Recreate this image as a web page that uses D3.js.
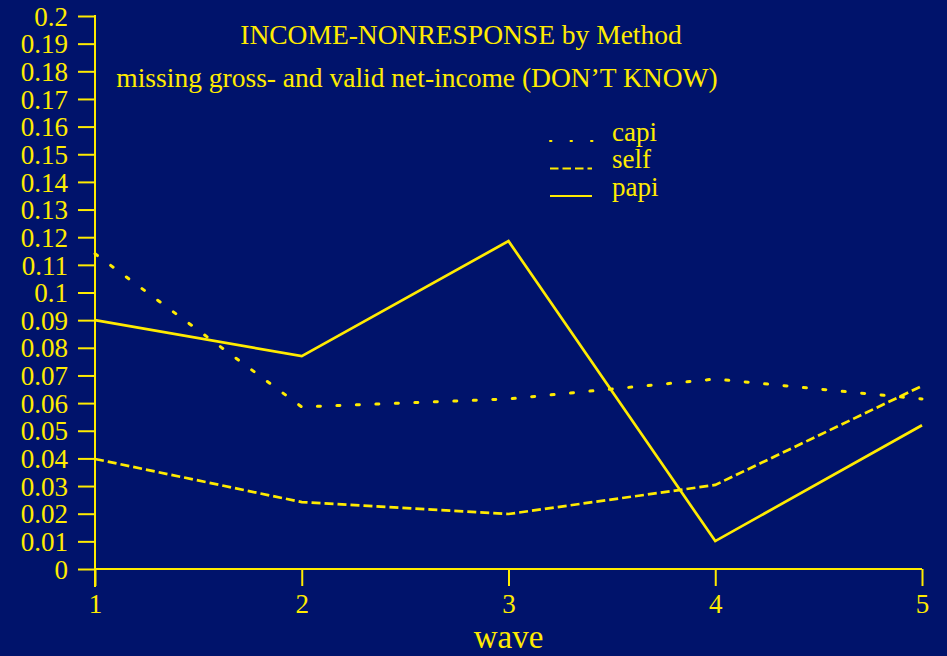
<!DOCTYPE html>
<html>
<head>
<meta charset="utf-8">
<script src="https://cdn.jsdelivr.net/npm/d3@7"></script>
<style>
  html, body { margin: 0; padding: 0; background: #00136b; }
  svg { display: block; }
  text { font-family: "Liberation Serif", "Times New Roman", serif; fill: #ffeb00; }
</style>
</head>
<body>
<svg id="chart" width="947" height="656"></svg>
<script>
// Income nonresponse shares per survey wave, by interview method
const waves = [1, 2, 3, 4, 5];
const capi = [0.114, 0.0586, 0.0615, 0.0687, 0.0615];
const self = [0.0398, 0.0242, 0.0199, 0.0304, 0.0662];
const papi = [0.090, 0.077, 0.1186, 0.0101, 0.052];
const yTicks = [0, 0.01, 0.02, 0.03, 0.04, 0.05, 0.06, 0.07, 0.08, 0.09, 0.1,
                0.11, 0.12, 0.13, 0.14, 0.15, 0.16, 0.17, 0.18, 0.19, 0.2];
const yTickLabels = ["0", "0.01", "0.02", "0.03", "0.04", "0.05", "0.06", "0.07", "0.08", "0.09", "0.1",
                     "0.11", "0.12", "0.13", "0.14", "0.15", "0.16", "0.17", "0.18", "0.19", "0.2"];
const seriesNames = ["capi", "self", "papi"];

const yellow = "#ffeb00";
const svg = d3.select("#chart");

const x = d3.scaleLinear().domain([1, 5]).range([95, 922]);
const y = d3.scaleLinear().domain([0, 0.2]).range([569, 16]);

// Y axis
const yAxis = svg.append("g")
  .attr("transform", `translate(${x(1)},0)`)
  .call(d3.axisLeft(y).tickValues(yTicks).tickSize(17).tickPadding(10)
    .tickFormat((d, i) => yTickLabels[i]));
yAxis.select(".domain").remove();
yAxis.selectAll("line").attr("stroke", yellow).attr("stroke-width", 2);
yAxis.selectAll("text").attr("fill", yellow)
  .style("font-family", "'Liberation Serif', serif").style("font-size", "27px")
  .attr("dy", "0.34em");
svg.append("line").attr("x1", x(1)).attr("x2", x(1))
  .attr("y1", y(0.2) - 1).attr("y2", y(0) + 18)
  .attr("stroke", yellow).attr("stroke-width", 2);

// X axis
const xAxis = svg.append("g")
  .attr("transform", `translate(0,${y(0)})`)
  .call(d3.axisBottom(x).tickValues(waves).tickSize(17).tickPadding(8)
    .tickFormat(d3.format("d")));
xAxis.select(".domain").remove();
xAxis.selectAll("line").attr("stroke", yellow).attr("stroke-width", 2);
xAxis.selectAll("text").attr("fill", yellow)
  .style("font-family", "'Liberation Serif', serif").style("font-size", "27px");
svg.append("line").attr("x1", x(1)).attr("x2", x(5))
  .attr("y1", y(0)).attr("y2", y(0))
  .attr("stroke", yellow).attr("stroke-width", 2);

// Axis title
svg.append("text").attr("x", (x(1) + x(5)) / 2).attr("y", 648)
  .attr("text-anchor", "middle").style("font-size", "33px").text("wave");

// Titles
svg.append("text").attr("x", 461).attr("y", 44).attr("text-anchor", "middle")
  .style("font-size", "27.5px").text("INCOME-NONRESPONSE by Method");
svg.append("text").attr("x", 417).attr("y", 87).attr("text-anchor", "middle")
  .style("font-size", "27.5px").text("missing gross- and valid net-income (DON\u2019T KNOW)");

// Series lines
const line = d3.line().x((d, i) => x(waves[i])).y(d => y(d));

const styles = {
  capi: { dash: "3,16.5", legendDash: "1.5,19", width: 3, cap: "round", data: capi },
  self: { dash: "9,4", legendDash: "8.5,4", width: 2.7, cap: "butt", data: self },
  papi: { dash: null, legendDash: null, width: 2.7, cap: "butt", data: papi }
};

seriesNames.forEach(name => {
  const s = styles[name];
  svg.append("path")
    .attr("d", line(s.data))
    .attr("fill", "none")
    .attr("stroke", yellow)
    .attr("stroke-width", s.width)
    .attr("stroke-linecap", s.cap)
    .attr("stroke-linejoin", "miter")
    .attr("stroke-dasharray", s.dash);
});

// Legend
const legend = svg.append("g");
seriesNames.forEach((name, i) => {
  const ly = 141 + i * 27.5;
  legend.append("line").attr("x1", 550).attr("x2", name === "capi" ? 593 : 592)
    .attr("y1", ly).attr("y2", ly)
    .attr("stroke", yellow).attr("stroke-width", 2)
    .attr("stroke-linecap", styles[name].cap)
    .attr("stroke-dasharray", styles[name].legendDash);
  legend.append("text").attr("x", 612).attr("y", ly - 0.5)
    .style("font-size", "27px").text(name);
});
</script>
</body>
</html>
